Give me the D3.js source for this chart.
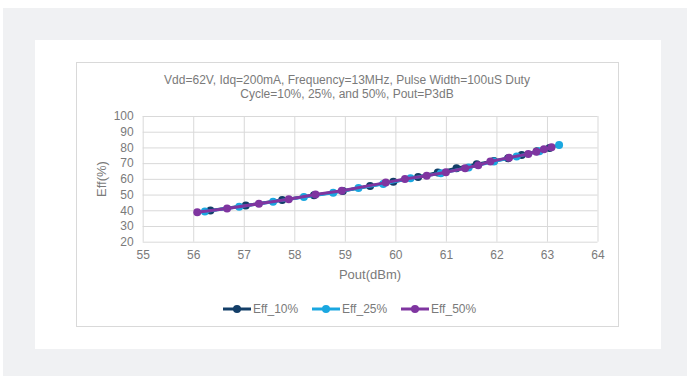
<!DOCTYPE html>
<html><head><meta charset="utf-8">
<script src="https://cdn.jsdelivr.net/npm/d3@7"></script>
<style>body{margin:0;background:#fff}svg{display:block;font-family:"Liberation Sans",Arial,sans-serif}</style>
</head><body><svg id="c" width="687" height="376"></svg>
<script>
const titleLines = ["Vdd=62V, Idq=200mA, Frequency=13MHz, Pulse Width=100uS Duty", "Cycle=10%, 25%, and 50%, Pout=P3dB"];
const xTicks = [55,56,57,58,59,60,61,62,63,64];
const yTicks = [20,30,40,50,60,70,80,90,100];
const seriesNames = ["Eff_10%","Eff_25%","Eff_50%"];
const seriesColors = ["#133e68","#1aa7e0","#7f35a0"];
const pout10 = [56.34,57.04,57.76,58.39,58.96,59.50,59.96,60.45,60.84,61.21,61.61,61.95,62.23,62.50,62.80,63.05];
const eff10  = [39.8,43.0,46.5,49.5,52.3,55.5,58.2,61.2,64.0,66.7,69.3,71.4,73.1,75.2,77.5,79.6];
const pout25 = [56.23,56.91,57.58,58.19,58.77,59.27,59.76,60.30,60.90,61.45,61.95,62.40,62.85,63.24];
const eff25  = [39.2,42.2,45.4,48.4,51.2,54.2,56.7,60.4,63.6,67.2,71.0,74.2,77.6,81.6];
const pout50 = [56.08,56.67,57.30,57.89,58.42,58.94,59.81,60.19,60.62,61.00,61.38,61.64,61.88,62.25,62.63,62.79,62.94,63.09];
const eff50  = [38.7,41.2,44.2,47.0,50.0,52.4,57.6,59.9,62.0,64.2,66.8,68.6,71.0,73.5,75.8,77.3,78.8,80.1];

const svg = d3.select("#c");
svg.append("rect").attr("x",3).attr("y",8).attr("width",684).attr("height",368).attr("fill","#f0f1f3");
svg.append("rect").attr("x",35).attr("y",40).attr("width",626).attr("height",309).attr("fill","#fff");
svg.append("rect").attr("x",76.5).attr("y",62.5).attr("width",542).attr("height",264).attr("fill","#fff").attr("stroke","#d9d9d9");

const x = d3.scaleLinear().domain([55,64]).range([142.7,597.5]);
const y = d3.scaleLinear().domain([20,100]).range([241.7,116]);
const txt = "#7a7a7a";

svg.append("g").selectAll("text").data(titleLines).join("text")
  .attr("x",347).attr("y",(d,i)=>83.5+i*14).attr("text-anchor","middle")
  .attr("font-size",12).attr("fill",txt).text(d=>d);

const gx = svg.append("g").attr("transform",`translate(0,${y(20)})`)
  .call(d3.axisBottom(x).tickValues(xTicks).tickSize(-(y(20)-y(100))).tickPadding(9).tickFormat(d3.format("d")));
const gy = svg.append("g").attr("transform",`translate(${x(55)},0)`)
  .call(d3.axisLeft(y).tickValues(yTicks).tickSize(-(x(64)-x(55))).tickPadding(9).tickFormat(d3.format("d")));
[gx,gy].forEach(g=>{
  g.select(".domain").remove();
  g.selectAll("line").attr("stroke","#d9d9d9");
  g.selectAll("text").attr("fill",txt).attr("font-size",12).attr("font-family","Liberation Sans,Arial,sans-serif");
});

svg.append("text").attr("x",370).attr("y",278.5).attr("text-anchor","middle").attr("font-size",13).attr("fill",txt).text("Pout(dBm)");
svg.append("text").attr("transform","translate(106,179) rotate(-90)").attr("text-anchor","middle").attr("font-size",13).attr("fill",txt).text("Eff(%)");

const series = [[pout10,eff10],[pout25,eff25],[pout50,eff50]];
const line = d3.line().x(d=>x(d[0])).y(d=>y(d[1]));
series.forEach((s,i)=>{
  const pts = s[0].map((v,j)=>[v,s[1][j]]);
  const g = svg.append("g");
  g.append("path").datum(pts).attr("d",line).attr("fill","none").attr("stroke",seriesColors[i]).attr("stroke-width",3);
  g.selectAll("circle").data(pts).join("circle").attr("cx",d=>x(d[0])).attr("cy",d=>y(d[1])).attr("r",4).attr("fill",seriesColors[i]);
});

const legX = [223,312,401];
seriesNames.forEach((n,i)=>{
  const g = svg.append("g");
  g.append("line").attr("x1",legX[i]).attr("x2",legX[i]+28).attr("y1",309).attr("y2",309).attr("stroke",seriesColors[i]).attr("stroke-width",3);
  g.append("circle").attr("cx",legX[i]+14).attr("cy",309).attr("r",4).attr("fill",seriesColors[i]);
  g.append("text").attr("x",legX[i]+30).attr("y",313).attr("font-size",12).attr("fill",txt).text(n);
});
</script></body></html>
